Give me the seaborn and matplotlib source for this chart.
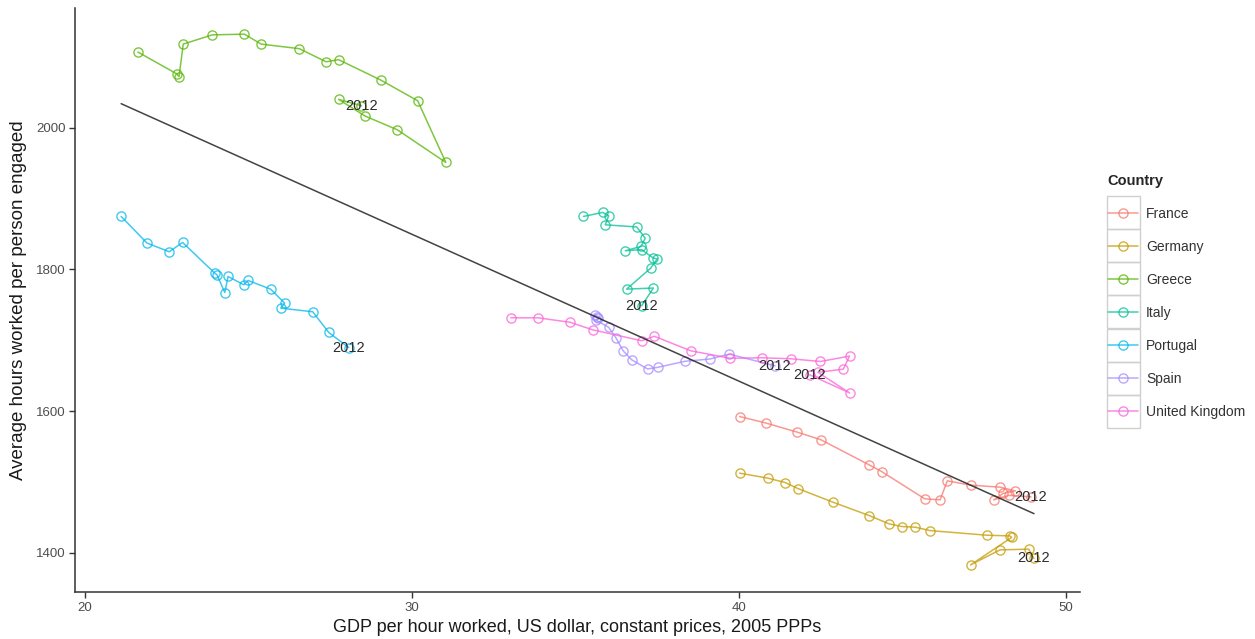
import matplotlib
matplotlib.use("Agg")
import matplotlib.pyplot as plt
from matplotlib.patches import Rectangle
import numpy as np
import pandas as pd
import seaborn as sns

# GDP per hour worked (US dollar, constant prices, 2005 PPPs) and average
# annual hours worked per person engaged; each series runs up to 2012.
france_gdp = [40.02, 40.83, 41.78, 42.51, 43.98, 44.36, 45.68, 46.15, 46.37,
              47.08, 47.98, 48.45, 48.08, 47.79, 48.25, 48.93]
france_hours = [1592.5, 1583.2, 1570.5, 1559.6, 1524.3, 1514.9, 1476.4, 1475.0,
                1501.8, 1495.7, 1492.9, 1487.6, 1484.1, 1474.9, 1481.3, 1479.2]

germany_gdp = [40.02, 40.88, 41.41, 41.80, 42.87, 43.98, 44.59, 44.98, 45.39,
               45.84, 47.57, 48.28, 48.34, 47.08, 47.98, 48.86, 49.02]
germany_hours = [1512.6, 1505.6, 1499.4, 1490.9, 1471.7, 1452.8, 1441.1, 1437.3,
                 1436.4, 1431.6, 1425.1, 1424.1, 1422.0, 1383.2, 1404.4, 1405.4,
                 1392.4]

greece_gdp = [21.61, 22.80, 22.87, 23.00, 23.89, 24.87, 25.38, 26.55, 27.37,
              27.75, 29.05, 30.17, 31.03, 29.55, 28.56, 27.75, 28.45]
greece_hours = [2106.8, 2076.0, 2072.0, 2118.0, 2131.0, 2132.0, 2118.0, 2111.5,
                2093.0, 2096.0, 2067.0, 2038.0, 1951.0, 1997.0, 2016.5, 2040.0,
                2031.0]

italy_gdp = [35.24, 35.83, 36.01, 35.91, 36.87, 37.13, 37.00, 36.52, 37.02,
             37.38, 37.50, 37.30, 36.56, 37.38, 37.02]
italy_hours = [1874.8, 1880.5, 1875.8, 1863.0, 1860.0, 1844.0, 1832.5, 1826.4,
               1828.0, 1816.0, 1815.0, 1802.0, 1772.3, 1773.8, 1748.8]

portugal_gdp = [21.10, 21.89, 22.57, 22.98, 23.96, 24.03, 24.27, 24.37, 24.85,
                24.98, 25.67, 26.10, 25.98, 26.96, 27.45, 28.06]
portugal_hours = [1874.8, 1837.3, 1825.0, 1838.1, 1794.9, 1792.5, 1767.5,
                  1790.1, 1778.4, 1784.5, 1772.3, 1752.6, 1745.5, 1740.3,
                  1711.1, 1689.9]

spain_gdp = [35.58, 35.66, 35.70, 35.61, 36.01, 36.23, 36.45, 36.72, 37.20,
             37.52, 38.34, 39.11, 39.70, 41.10]
spain_hours = [1736.1, 1733.2, 1731.1, 1729.0, 1718.4, 1704.0, 1685.5, 1672.5,
               1659.6, 1662.0, 1670.4, 1673.7, 1680.6, 1664.1]

uk_gdp = [33.02, 33.85, 34.83, 35.52, 37.02, 37.41, 38.52, 39.73, 40.69, 41.59,
          42.49, 43.38, 43.19, 42.41, 43.38, 42.16]
uk_hours = [1731.8, 1731.8, 1725.5, 1714.9, 1699.4, 1705.7, 1685.3, 1674.7,
            1675.4, 1674.0, 1670.2, 1677.8, 1659.4, 1654.9, 1625.9, 1651.4]

countries = ["France", "Germany", "Greece", "Italy", "Portugal", "Spain",
             "United Kingdom"]
gdp_series = [france_gdp, germany_gdp, greece_gdp, italy_gdp, portugal_gdp,
              spain_gdp, uk_gdp]
hours_series = [france_hours, germany_hours, greece_hours, italy_hours,
                portugal_hours, spain_hours, uk_hours]
end_label = "2012"

x_ticks = [20, 30, 40, 50]
y_ticks = [1400, 1600, 1800, 2000]

frames = []
for name, g, h in zip(countries, gdp_series, hours_series):
    frames.append(pd.DataFrame({"Country": name, "gdp": g, "hours": h,
                                "step": np.arange(len(g))}))
df = pd.concat(frames, ignore_index=True)

# ggplot-style hue palette
palette = ["#F8766D", "#C49A00", "#53B400", "#00C094", "#00B6EB", "#A58AFF",
           "#FB61D7"]

sns.set_style("white")
plt.rcParams["font.family"] = ["Liberation Sans", "DejaVu Sans"]

fig = plt.figure(figsize=(12.55, 6.39), dpi=100)
ax = fig.add_axes([0.0598, 0.0736, 0.8008, 0.914])

for name, col in zip(countries, palette):
    sub = df[df["Country"] == name]
    sns.lineplot(data=sub, x="gdp", y="hours", sort=False, estimator=None,
                 color=col, marker="o", markersize=6.6, mfc="none", mec=col,
                 mew=1.0, lw=1.1, alpha=0.75, ax=ax, label=name, legend=False)
    last = sub.iloc[-1]
    ax.text(last["gdp"], last["hours"], end_label, ha="center", va="center",
            fontsize=10.5, color="#2b2b2b")

# overall linear trend across all countries
sns.regplot(data=df, x="gdp", y="hours", scatter=False, ci=None, ax=ax,
            line_kws=dict(color="#222222", lw=1.1, alpha=0.85))

ax.set_xlim(19.69, 50.43)
ax.set_ylim(1345, 2169)
ax.set_xticks(x_ticks)
ax.set_yticks(y_ticks)
ax.set_xlabel("GDP per hour worked, US dollar, constant prices, 2005 PPPs",
              fontsize=13, color="#1a1a1a", labelpad=4)
ax.set_ylabel("Average hours worked per person engaged", fontsize=13.5,
              color="#1a1a1a", labelpad=6)
for side in ["top", "right"]:
    ax.spines[side].set_visible(False)
for side in ["left", "bottom"]:
    ax.spines[side].set_color("#333333")
    ax.spines[side].set_linewidth(1.1)
ax.tick_params(axis="both", which="major", length=4, width=1, color="#333333",
               labelcolor="#4d4d4d", labelsize=9.5, direction="out",
               bottom=True, left=True, pad=3)

# legend with a boxed key per country
handles, labels = ax.get_legend_handles_labels()
leg = fig.legend(handles, labels, title="Country", loc="upper left",
                 bbox_to_anchor=(1098 / 1255, 1 - 164 / 639), frameon=False,
                 fontsize=10, title_fontsize=10.5, handlelength=2.2,
                 handletextpad=0.55, labelspacing=1.37, borderpad=0.2)
leg.get_title().set_fontweight("bold")
leg._legend_box.align = "left"
for t in leg.get_texts():
    t.set_color("#333333")
for lh in leg.legend_handles:
    lh.set_alpha(0.75)

fig.canvas.draw()
W, H = fig.get_size_inches() * fig.dpi
for lh in leg.legend_handles:
    bb = lh.get_window_extent(fig.canvas.get_renderer())
    cx, cy = (bb.x0 + bb.x1) / 2, (bb.y0 + bb.y1) / 2
    size = 33
    fig.patches.append(Rectangle(((cx - size / 2) / W, (cy - size / 2) / H),
                                 size / W, size / H, transform=fig.transFigure,
                                 facecolor="none", edgecolor="#d0d0d0", lw=1.0))

fig.savefig("out.png", dpi=100)
